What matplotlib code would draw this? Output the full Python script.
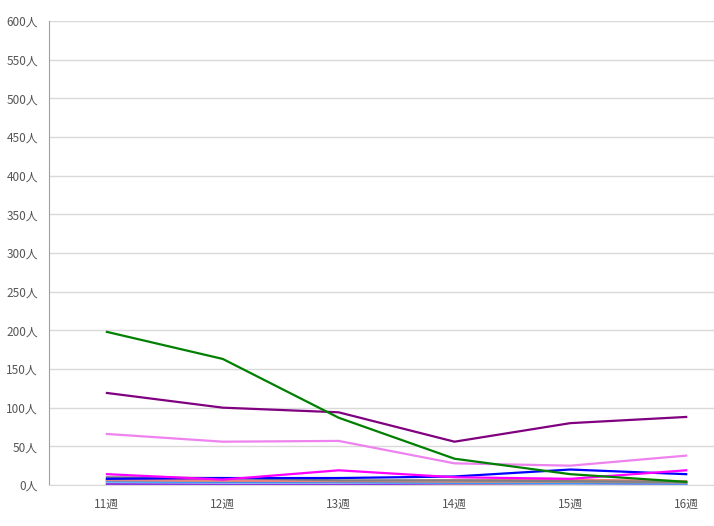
import matplotlib
matplotlib.use("Agg")
import matplotlib.pyplot as plt

plt.rcParams['font.family'] = ['Noto Sans CJK JP', 'DejaVu Sans']

weeks = ["11週", "12週", "13週", "14週", "15週", "16週"]
yticks = [0, 50, 100, 150, 200, 250, 300, 350, 400, 450, 500, 550, 600]
ytick_labels = [f"{v}人" for v in yticks]

green = [198, 163, 87, 34, 14, 4]
purple = [119, 100, 94, 56, 80, 88]
violet = [66, 56, 57, 28, 25, 38]
magenta = [14, 7, 19, 10, 8, 19]
blue = [8, 9, 9, 11, 20, 14]
gray = [10, 9, 6, 6, 5, 4]
salmon = [7, 6, 5, 6, 7, 5]
rosybrown = [6, 5, 5, 4, 4, 3]
dodgerblue = [5, 4, 4, 3, 3, 2]
lightblue = [4, 3, 3, 3, 2, 2]
khaki = [2, 2, 2, 1, 1, 1]
blueviolet = [1, 1, 1, 2, 2, 1]
red = [1, 1, 1, 1, 1, 1]

series = [
    (red, "#d62728"), (khaki, "#f0d070"), (blueviolet, "#8a2be2"),
    (lightblue, "#87cefa"), (dodgerblue, "#1e90ff"), (rosybrown, "#bc8f8f"),
    (salmon, "#f08080"), (gray, "#808080"), (blue, "#0000ff"),
    (magenta, "#ff00ff"), (violet, "#ee82ee"), (purple, "#800080"),
    (green, "#008000"),
]

fig = plt.figure(figsize=(7.14, 5.26), dpi=100)
ax = fig.add_axes([49/714, 41/526, 1 - 49/714, 464/526])
x = list(range(len(weeks)))
for vals, c in series:
    ax.plot(x, vals, color=c, lw=1.6)

ax.set_xlim(-0.5, 5.24)
ax.set_ylim(0, 600)
ax.set_yticks(yticks)
ax.set_yticklabels(ytick_labels)
ax.set_xticks(x)
ax.set_xticklabels(weeks)
ax.tick_params(axis='both', length=0, labelsize=8.5, colors='#555555')
ax.tick_params(axis='x', pad=9)
ax.tick_params(axis='y', pad=8)
ax.grid(axis='y', color='#d9d9d9', lw=1)
ax.set_axisbelow(True)
for s in ['top', 'right']:
    ax.spines[s].set_visible(False)
ax.spines['left'].set_color('#a0a0a0')
ax.spines['bottom'].set_color('#d9d9d9')

fig.savefig("out.png", dpi=100)
